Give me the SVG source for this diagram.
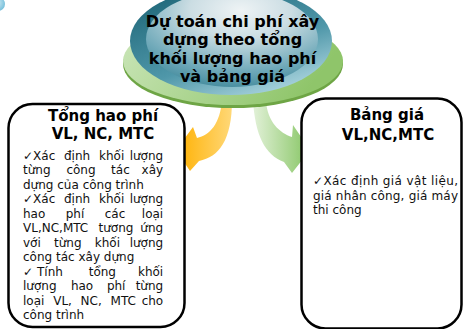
<svg xmlns="http://www.w3.org/2000/svg" width="463" height="329" viewBox="0 0 463 329">
<defs>
<linearGradient id="gOrange" x1="176" y1="0" x2="232" y2="0" gradientUnits="userSpaceOnUse">
<stop offset="0" stop-color="#FFB000"/><stop offset="1" stop-color="#FFD878"/>
</linearGradient>
<linearGradient id="gGreenArrow" x1="253" y1="0" x2="310" y2="0" gradientUnits="userSpaceOnUse">
<stop offset="0" stop-color="#E2F1D8"/><stop offset="1" stop-color="#86C563"/>
</linearGradient>
<linearGradient id="gDisc" x1="0" y1="0" x2="1" y2="0.3">
<stop offset="0" stop-color="#CDE7BC"/><stop offset="1" stop-color="#8FC56A"/>
</linearGradient>
<linearGradient id="gTealOuter" x1="0.2" y1="0" x2="0.8" y2="1">
<stop offset="0" stop-color="#1E6678"/><stop offset="0.6" stop-color="#4F97A9"/><stop offset="1" stop-color="#B3DAE3"/>
</linearGradient>
<radialGradient id="gTealInner" cx="0.55" cy="0.2" r="0.85">
<stop offset="0" stop-color="#EEF3F5"/><stop offset="0.35" stop-color="#CBDDE3"/><stop offset="0.75" stop-color="#6FA9B9"/><stop offset="1" stop-color="#3E8799"/>
</radialGradient>
<radialGradient id="gBubble" cx="0.4" cy="0.4" r="0.6">
<stop offset="0" stop-color="#D8EEF6"/><stop offset="1" stop-color="#7CC2DC"/>
</radialGradient>
<style>
.box{fill:#FFFFFF;stroke:#000000;stroke-width:2.5}
.title{font-family:"DejaVu Sans",Verdana,sans-serif;font-weight:bold;font-size:15px;fill:#000;text-anchor:middle}
.ctitle{font-family:"DejaVu Sans",Verdana,sans-serif;font-weight:bold;font-size:16px;fill:#000;text-anchor:middle}
.body{font-family:"DejaVu Sans",Verdana,sans-serif;font-size:12px;fill:#111}
.e{text-anchor:end}
</style>
</defs>

<circle cx="-2" cy="4" r="7" fill="url(#gBubble)"/>

<g id="connectors">
<path d="M 222,100 C 220,124 210,135 197,138 L 193,127 L 176,150 L 190,171 L 199,161 C 219,157 232,140 232,100 Z" fill="url(#gOrange)"/>
<path d="M 253,100 C 255,135 265,155 284,162 L 292,173 L 310,150 L 293,125 L 292,137 C 280,133 267,122 266,100 Z" fill="url(#gGreenArrow)"/>
</g>

<g id="node-center">
<ellipse cx="233" cy="64" rx="110" ry="44" fill="#6EA545"/>
<ellipse cx="233" cy="61" rx="110" ry="44" fill="url(#gDisc)"/>
<ellipse cx="231" cy="41" rx="101" ry="54" fill="url(#gTealOuter)"/>
<ellipse cx="232" cy="39" rx="86" ry="48" fill="url(#gTealInner)"/>
<text class="ctitle" x="232.5" y="26.5">Dự toán chi phí xây</text>
<text class="ctitle" x="232.5" y="45">dựng theo tổng</text>
<text class="ctitle" x="232.5" y="63.5">khối lượng hao phí</text>
<text class="ctitle" x="232.5" y="82">và bảng giá</text>
</g>

<g id="node-left">
<rect class="box" x="8.5" y="104" width="176" height="223" rx="24" ry="24"/>
<text class="title" x="103" y="121">Tổng hao phí</text>
<text class="title" x="103" y="138.5">VL, NC, MTC</text>
<text class="body">
<tspan x="23" y="159.5">✓Xác</tspan><tspan x="64" y="159.5">định</tspan><tspan x="99" y="159.5">khối</tspan><tspan class="e" x="167" y="159.5">lượng</tspan>
<tspan x="23" y="174">từng</tspan><tspan x="66.4" y="174">công</tspan><tspan x="111.1" y="174">tác</tspan><tspan class="e" x="167" y="174">xây</tspan>
<tspan x="23" y="188.5">dựng của công trình</tspan>
<tspan x="23" y="203">✓Xác</tspan><tspan x="64" y="203">định</tspan><tspan x="99" y="203">khối</tspan><tspan class="e" x="167" y="203">lượng</tspan>
<tspan x="23" y="217.5">hao</tspan><tspan x="65.7" y="217.5">phí</tspan><tspan x="104.7" y="217.5">các</tspan><tspan class="e" x="167" y="217.5">loại</tspan>
<tspan x="23" y="232">VL,NC,MTC</tspan><tspan x="98.5" y="232">tương</tspan><tspan class="e" x="167" y="232">ứng</tspan>
<tspan x="23" y="246.5">với</tspan><tspan x="54" y="246.5">từng</tspan><tspan x="94.8" y="246.5">khối</tspan><tspan class="e" x="167" y="246.5">lượng</tspan>
<tspan x="23" y="261">công tác xây dựng</tspan>
<tspan x="23" y="275.5">✓</tspan><tspan x="37" y="275.5">Tính</tspan><tspan x="88.7" y="275.5">tổng</tspan><tspan class="e" x="167" y="275.5">khối</tspan>
<tspan x="23" y="290">lượng</tspan><tspan x="70.9" y="290">hao</tspan><tspan x="106.9" y="290">phí</tspan><tspan class="e" x="167" y="290">từng</tspan>
<tspan x="23" y="304.5">loại</tspan><tspan x="53.2" y="304.5">VL,</tspan><tspan x="80.6" y="304.5">NC,</tspan><tspan x="110.6" y="304.5">MTC</tspan><tspan class="e" x="167" y="304.5">cho</tspan>
<tspan x="23" y="319">công trình</tspan>
</text>
</g>

<g id="node-right">
<rect class="box" x="301.5" y="98.5" width="160" height="230" rx="24" ry="24"/>
<text class="title" x="387" y="120">Bảng giá</text>
<text class="title" x="388" y="139.5">VL,NC,MTC</text>
<text class="body" x="313" y="185" textLength="145" lengthAdjust="spacing">✓Xác định giá vật liệu,</text>
<text class="body" x="313" y="199.5" textLength="145" lengthAdjust="spacing">giá nhân công, giá máy</text>
<text class="body" x="313" y="213.5">thi công</text>
</g>
</svg>
